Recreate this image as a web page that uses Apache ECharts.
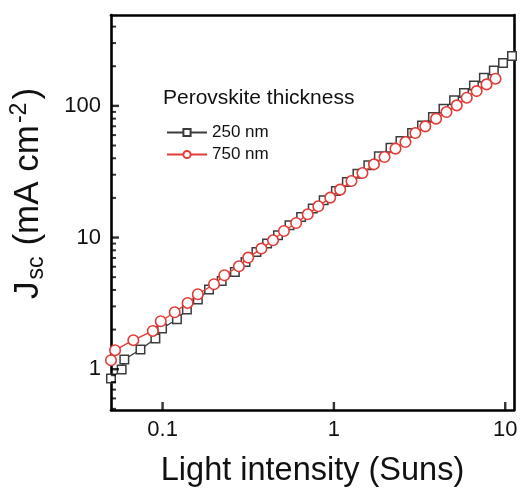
<!DOCTYPE html>
<html>
<head>
<meta charset="utf-8">
<script src="https://cdn.jsdelivr.net/npm/echarts@6/dist/echarts.min.js"></script>
<style>html,body{margin:0;padding:0;background:#fff}#c{width:525px;height:493px}</style>
</head>
<body>
<div id="c"></div>
<script>
// ---- data ----
const seriesNames = ['250 nm', '750 nm'];
const intensity250 = [0.05,0.0577,0.0598,0.0743,0.0908,0.0993,0.1213,0.1387,0.1606,0.1867,0.2213,0.2642,0.3048,0.3530,0.4073,0.4718,0.5506,0.6436,0.7524,0.8716,1.027,1.190,1.372,1.589,1.830,2.140,2.446,2.859,3.267,3.784,4.360,5.028,5.745,6.568,7.506,8.578,9.710,10.95];
const jsc250 = [0.85,0.995,1.185,1.411,1.710,2.037,2.396,2.839,3.381,4.026,4.68,5.476,6.524,7.77,8.997,10.40,12.39,14.32,16.59,19.17,22.56,26.41,30.58,35.35,41.38,48.16,54.06,62.15,71.1,82.2,95.2,110.1,125.1,143.0,163.7,186.0,211.2,238.8];
const intensity750 = [0.05,0.0528,0.0675,0.0877,0.0976,0.1177,0.140,0.1606,0.1996,0.2294,0.2788,0.3160,0.3774,0.4412,0.5109,0.6022,0.7037,0.8110,0.9519,1.088,1.266,1.467,1.713,1.975,2.288,2.615,2.988,3.415,3.947,4.538,5.214,5.959,6.808,7.78,8.776];
const jsc750 = [1.170,1.394,1.660,1.953,2.314,2.707,3.186,3.709,4.418,5.170,6.05,7.044,8.245,9.53,11.21,12.90,15.01,17.27,20.10,23.12,26.87,30.90,35.97,40.88,47.32,53.13,62.15,69.88,79.98,89.75,100.9,115.4,129.5,145.6,160.9];
const xTickLabels = ['0.1', '1', '10'];
const yTickLabels = ['1', '10', '100'];
const xRange = [0.05, 11.25];
const yRange = [0.49, 490];
const legendTitle = 'Perovskite thickness';

// minor ticks on the left axis (2..9 x decade)
const yMinorTicks = [];
for (let d = -1; d <= 2; d++) {
  for (let k = 2; k <= 9; k++) {
    const v = k * Math.pow(10, d);
    if (v > yRange[0] && v < yRange[1]) yMinorTicks.push([xRange[0], v]);
  }
}
// major ticks (decades) drawn as marks through the axes' scales
const yMajorTicks = [1, 10, 100].map(v => [xRange[0], v]);
const xMajorTicks = [0.1, 1, 10].map(v => [v, yRange[0]]);

const FONT = 'Liberation Sans, Arial, Helvetica, sans-serif';
function pair(xs, ys) { return xs.map((x, i) => [x, ys[i]]); }
function decadeLabel(list) {
  return function (v) {
    const l = Math.log10(v);
    if (Math.abs(l - Math.round(l)) < 1e-6) {
      const s = String(+v.toPrecision(6));
      return list.indexOf(s) >= 0 ? s : '';
    }
    return '';
  };
}
const frameAxis = {lineStyle: {color: '#000', width: 2.6}};

const chart = echarts.init(document.getElementById('c'), null, {renderer: 'canvas'});
chart.setOption({
  animation: false,
  backgroundColor: '#fff',
  title: {
    text: legendTitle, left: 158, top: 83,
    textStyle: {fontFamily: FONT, fontSize: 21, fontWeight: 'normal', color: '#111'}
  },
  legend: {
    data: seriesNames, orient: 'vertical', left: 161, top: 119,
    itemWidth: 40, itemHeight: 9, itemGap: 5,
    textStyle: {fontFamily: FONT, fontSize: 17, color: '#111'}
  },
  grid: {left: 108, right: 11, top: 15, bottom: 83},
  xAxis: [{
    type: 'log', logBase: 10, min: xRange[0], max: xRange[1],
    name: 'Light intensity (Suns)', nameLocation: 'middle', nameGap: 45,
    nameTextStyle: {fontFamily: FONT, fontSize: 32.5, color: '#111'},
    axisLine: Object.assign({show: true}, frameAxis),
    axisTick: {show: false},
    minorTick: {show: false},
    axisLabel: {margin: 9, fontFamily: FONT, fontSize: 22, color: '#111', formatter: decadeLabel(xTickLabels)},
    splitLine: {show: false}
  }, {
    type: 'log', logBase: 10, min: xRange[0], max: xRange[1], position: 'top',
    axisLine: Object.assign({show: true}, frameAxis),
    axisTick: {show: false}, axisLabel: {show: false}, splitLine: {show: false}
  }],
  yAxis: [{
    type: 'log', logBase: 10, min: yRange[0], max: yRange[1],
    name: '{J|J}{sub|sc}{n|(mA cm}{sup|-2}{n|)}', nameLocation: 'middle', nameRotate: 90, nameGap: 63,
    nameTextStyle: {
      fontFamily: FONT, fontSize: 35, color: '#111', padding: [0, 0, 0, 38],
      rich: {
        J: {fontFamily: FONT, fontSize: 35, color: '#111', lineHeight: 40, padding: [0, 1, 0, 0]},
        n: {fontFamily: FONT, fontSize: 35, color: '#111', lineHeight: 40},
        sub: {fontFamily: FONT, fontSize: 23, color: '#111', verticalAlign: 'bottom', lineHeight: 30, padding: [0, 11, 0, 1]},
        sup: {fontFamily: FONT, fontSize: 23, color: '#111', verticalAlign: 'top', lineHeight: 12, padding: [0, 3, 0, 2]}
      }
    },
    axisLine: Object.assign({show: true}, frameAxis),
    axisTick: {show: false},
    minorTick: {show: false},
    axisLabel: {margin: 10, fontFamily: FONT, fontSize: 22, color: '#111', formatter: decadeLabel(yTickLabels)},
    splitLine: {show: false}
  }, {
    type: 'log', logBase: 10, min: yRange[0], max: yRange[1], position: 'right',
    axisLine: Object.assign({show: true}, frameAxis),
    axisTick: {show: false}, axisLabel: {show: false}, splitLine: {show: false}
  }],
  series: [
    {
      name: seriesNames[0], type: 'line', data: pair(intensity250, jsc250),
      symbol: 'rect', symbolSize: 8.5, showAllSymbol: true, z: 3,
      lineStyle: {color: '#3c3c3c', width: 1.4},
      itemStyle: {color: '#fff', borderColor: '#3c3c3c', borderWidth: 1.5}
    },
    {
      name: seriesNames[1], type: 'line', data: pair(intensity750, jsc750),
      symbol: 'circle', symbolSize: 10.5, showAllSymbol: true, z: 4,
      lineStyle: {color: '#e23b36', width: 1.4},
      itemStyle: {color: '#fff', borderColor: '#e23b36', borderWidth: 1.6}
    },
    {
      name: 'yMinor', type: 'scatter', data: yMinorTicks, silent: true, clip: false, z: 10,
      symbol: 'rect', symbolSize: [5, 2], symbolOffset: [2.5, 0],
      itemStyle: {color: '#000'}, tooltip: {show: false}
    },
    {
      name: 'yMajor', type: 'scatter', data: yMajorTicks, silent: true, clip: false, z: 10,
      symbol: 'rect', symbolSize: [8, 2.4], symbolOffset: [4, 0],
      itemStyle: {color: '#000'}, tooltip: {show: false}
    },
    {
      name: 'xMajor', type: 'scatter', data: xMajorTicks, silent: true, clip: false, z: 10,
      symbol: 'rect', symbolSize: [2.4, 8], symbolOffset: [0, -4],
      itemStyle: {color: '#000'}, tooltip: {show: false}
    }
  ]
});
</script>
</body>
</html>
